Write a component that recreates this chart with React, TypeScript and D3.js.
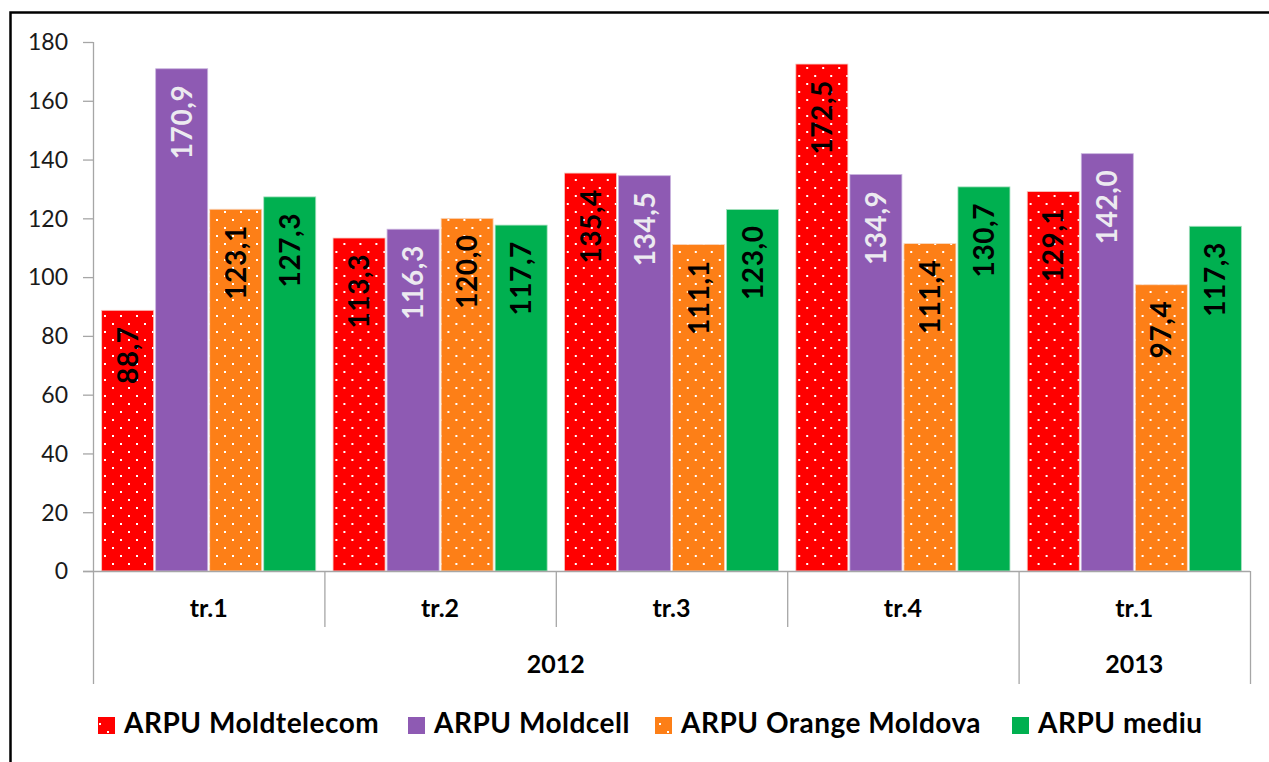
import React from "react";
import * as d3 from "d3";

const quarters = ["tr.1", "tr.2", "tr.3", "tr.4", "tr.1"];
const years = ["2012", "2012", "2012", "2012", "2013"];
const seriesNames = ["ARPU Moldtelecom", "ARPU Moldcell", "ARPU Orange Moldova", "ARPU mediu"];
const moldtelecom = [88.7, 113.3, 135.4, 172.5, 129.1];
const moldcell = [170.9, 116.3, 134.5, 134.9, 142.0];
const orange = [123.1, 120.0, 111.1, 111.4, 97.4];
const mediu = [127.3, 117.7, 123.0, 130.7, 117.3];
const yTicks = [0, 20, 40, 60, 80, 100, 120, 140, 160, 180];

const seriesValues = [moldtelecom, moldcell, orange, mediu];
const colors = ["#FF0000", "#8E5AB3", "#FD7F17", "#00B050"];
const strokes = ["#F6C8C0", "#C9B4DE", "#F8D8C0", "#A8E0C0"];
const dotted = [true, false, true, false];
const labelColors = ["#000", "#ECEAF0", "#000", "#000"];
const legendX = [98, 408, 655, 1012];

const FONT = "Lato, 'Open Sans', sans-serif";

export default function App() {
  const left = 93, right = 1250, top = 42, bottom = 571;
  const x0 = d3.scaleBand<number>().domain(d3.range(quarters.length)).range([left, right]).padding(0);
  const x1 = d3.scaleBand<number>().domain(d3.range(seriesNames.length)).range([0, x0.bandwidth()]).paddingInner(0.037).paddingOuter(0.16);
  const y = d3.scaleLinear().domain([0, 180]).range([bottom, top]);
  const fmt = (v: number) => v.toFixed(1).replace(".", ",");

  const yearGroups: { year: string; start: number; end: number }[] = [];
  years.forEach((yr, i) => {
    const last = yearGroups[yearGroups.length - 1];
    if (last && last.year === yr) last.end = i;
    else yearGroups.push({ year: yr, start: i, end: i });
  });
  const yearBoundaries = new Set<number>();
  yearGroups.forEach(g => { yearBoundaries.add(g.start); yearBoundaries.add(g.end + 1); });

  const axisColor = "#A6A6A6";

  return (
    <svg width={1269} height={762} style={{ position: "absolute", left: 0, top: 0, background: "#fff" }}>
      <defs>
        {colors.map((c, i) => (
          <pattern key={i} id={`dots${i}`} width={16} height={16} patternUnits="userSpaceOnUse">
            <rect width={16} height={16} fill={c} />
            <rect x={3} y={3} width={2} height={2} fill="#fff" />
            <rect x={11} y={11} width={2} height={2} fill="#fff" />
          </pattern>
        ))}
      </defs>
      <path d="M10.5,762 V12.5 H1269" fill="none" stroke="#000" strokeWidth={2.5} />

      {/* y axis */}
      <line x1={left + 0.5} x2={left + 0.5} y1={top} y2={bottom} stroke={axisColor} strokeWidth={1.3} />
      {yTicks.map(t => (
        <g key={t}>
          <line x1={83} x2={left} y1={y(t) + 0.5} y2={y(t) + 0.5} stroke={axisColor} strokeWidth={1.3} />
          <text x={68} y={y(t)} dy="0.36em" textAnchor="end" fontFamily={FONT} fontSize={23} fill="#1a1a1a">{t}</text>
        </g>
      ))}

      {/* bars */}
      {quarters.map((_, gi) => (
        <g key={gi} transform={`translate(${x0(gi)},0)`}>
          {seriesValues.map((vals, si) => {
            const v = vals[gi];
            const bx = x1(si)!;
            const bw = x1.bandwidth();
            return (
              <g key={si}>
                <rect x={bx} y={y(v)} width={bw} height={bottom - y(v)}
                  fill={dotted[si] ? `url(#dots${si})` : colors[si]}
                  stroke={strokes[si]} strokeWidth={0.8} />
                <text transform={`translate(${bx + bw / 2},${y(v) + 16}) rotate(-90)`}
                  textAnchor="end" dy="0.36em" fontFamily={FONT} fontWeight="bold" fontSize={28}
                  letterSpacing={0.6} fill={labelColors[si]}>{fmt(v)}</text>
              </g>
            );
          })}
        </g>
      ))}

      {/* category axis */}
      <line x1={83} x2={right} y1={bottom + 0.5} y2={bottom + 0.5} stroke={axisColor} strokeWidth={1.3} />
      {d3.range(quarters.length + 1).map(i => {
        const xx = i < quarters.length ? x0(i)! : right;
        const y2 = yearBoundaries.has(i) ? 684 : 627;
        return <line key={i} x1={xx + 0.5} x2={xx + 0.5} y1={bottom} y2={y2} stroke={axisColor} strokeWidth={1.3} />;
      })}
      {quarters.map((q, i) => (
        <text key={i} x={x0(i)! + x0.bandwidth() / 2} y={617} textAnchor="middle" fontFamily={FONT} fontWeight="bold" fontSize={25} fill="#000">{q}</text>
      ))}
      {yearGroups.map((g, i) => {
        const sx = x0(g.start)!;
        const ex = g.end + 1 < quarters.length ? x0(g.end + 1)! : right;
        return <text key={i} x={(sx + ex) / 2} y={673} textAnchor="middle" fontFamily={FONT} fontWeight="bold" fontSize={25} fill="#000">{g.year}</text>;
      })}

      {/* legend */}
      {seriesNames.map((n, i) => (
        <g key={i}>
          <rect x={legendX[i]} y={717} width={17} height={17} fill={dotted[i] ? `url(#dots${i})` : colors[i]} />
          <text x={legendX[i] + 26} y={733} fontFamily={FONT} fontWeight="bold" fontSize={28} letterSpacing={0.5} fill="#000">{n}</text>
        </g>
      ))}
    </svg>
  );
}
